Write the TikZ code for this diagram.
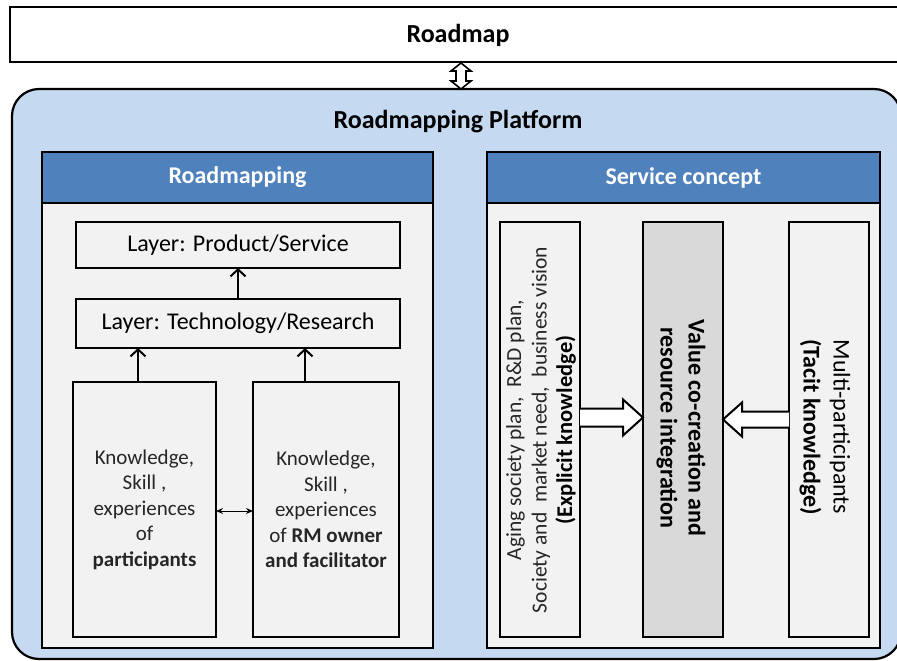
\documentclass[tikz,border=0pt]{standalone}
\usepackage{fontspec}
\setmainfont{Carlito}
\usetikzlibrary{arrows.meta,calc}
\definecolor{platfill}{RGB}{197,217,241}
\definecolor{hdrblue}{RGB}{79,129,189}
\definecolor{panelgray}{RGB}{242,242,242}
\definecolor{valgray}{RGB}{217,217,217}
\begin{document}
\begin{tikzpicture}[x=1pt,y=-1pt,
  box/.style={draw=black, line width=1.8pt, fill=panelgray, rectangle, inner sep=0pt, outer sep=0pt},
  hdr/.style={draw=black, line width=1.8pt, fill=hdrblue, rectangle, inner sep=0pt, outer sep=0pt,
    text=white, font=\fontsize{24}{28}\selectfont\bfseries},
  lay/.style={box, font=\fontsize{24}{28}\selectfont},
  know/.style={box, align=center, font=\fontsize{21}{25.5}\selectfont, text=black!85},
  vtxt/.style={align=center, inner sep=0pt},
  uparrow/.style={line width=2pt, -{Straight Barb[length=7pt,width=15pt]}},
  blockarrow/.style={draw=black, line width=2pt, fill=white, line join=miter},
  thinarrow/.style={line width=1pt, {Stealth[length=7pt,width=6pt]}-{Stealth[length=7pt,width=6pt]}}
]
\useasboundingbox (0,0) rectangle (897,661);
\clip (0,0) rectangle (897,661);

% Roadmap bar
\node[box, fill=white, minimum width=1000pt, minimum height=55pt] (roadmap) at (510,34.5) {};
\node[font=\fontsize{26}{30}\selectfont\bfseries] (roadmaptitle) at (458,35) {Roadmap};

% Platform
\node[draw=black, line width=2.2pt, fill=platfill, rounded corners=27pt, rectangle,
      minimum width=889pt, minimum height=570pt, inner sep=0pt] (platform) at (456.5,374) {};
\node[font=\fontsize{26}{30}\selectfont\bfseries] (plattitle) at (458,122) {Roadmapping Platform};

% double block arrow between roadmap and platform
\coordinate (da) at (461,76);
\draw[blockarrow, line width=1.6pt]
  ($(da)+(0,-13)$) -- ($(da)+(10,-5)$) -- ($(da)+(5,-5)$) -- ($(da)+(5,5)$) -- ($(da)+(10,5)$)
  -- ($(da)+(0,13)$) -- ($(da)+(-10,5)$) -- ($(da)+(-5,5)$) -- ($(da)+(-5,-5)$) -- ($(da)+(-10,-5)$) -- cycle;

% Left panel
\node[box, minimum width=391pt, minimum height=496pt] (leftpanel) at (237.5,400) {};
\node[hdr, minimum width=391pt, minimum height=51pt] (lefthdr) at (237.5,177.5) {Roadmapping};

\node[lay, minimum width=324pt, minimum height=46pt] (ps) at (238,245) {Layer: Product/Service};
\node[lay, minimum width=324pt, minimum height=49pt] (tr) at (238,323.5) {Layer: Technology/Research};

\node[know, minimum width=143pt, minimum height=255pt] (k1) at (144.5,509.5)
  {Knowledge,\\Skill ,\\experiences\\of\\\textbf{participants}};
\node[know, minimum width=146pt, minimum height=255pt] (k2) at (326,509.5)
  {Knowledge,\\Skill ,\\experiences\\of \textbf{RM owner}\\\textbf{and facilitator}};

\coordinate (k1top) at ($(k1.north)+(-6.5,0)$);
\coordinate (k2top) at ($(k2.north)+(-21,0)$);
\draw[uparrow] (tr.north) -- (ps.south);
\draw[uparrow] (k1top) -- (k1top |- tr.south);
\draw[uparrow] (k2top) -- (k2top |- tr.south);
\draw[thinarrow] ($(k1.east)+(0,1.5)$) -- ($(k2.west)+(0,1.5)$);

% Right panel
\node[box, minimum width=393pt, minimum height=496pt] (rightpanel) at (683.5,400) {};
\node[hdr, minimum width=393pt, minimum height=51pt] (righthdr) at (683.5,177.5) {Service concept};

\node[box, minimum width=80pt, minimum height=415pt] (e1) at (540,429.5) {};
\node[box, fill=valgray, minimum width=80pt, minimum height=415pt] (v2) at (683,429.5) {};
\node[box, minimum width=80pt, minimum height=415pt] (t3) at (829,429.5) {};

\node[vtxt, rotate=90, font=\fontsize{21.5}{25.5}\selectfont, text=black!85] (e1txt) at (541,430)
  {Aging society plan,\ \ R\&D plan,\\Society and\ \ market need,\ \ business vision\\{\color{black}\fontsize{22.5}{28}\selectfont\bfseries (Explicit knowledge)}};
\node[vtxt, rotate=-90, font=\fontsize{24}{28}\selectfont\bfseries] (v2txt) at (681,428)
  {Value co-creation and\\resource integration};
\node[vtxt, rotate=-90, font=\fontsize{24}{30}\selectfont] (t3txt) at (825,427)
  {Multi-participants\\\textbf{(Tacit knowledge)}};

% block arrows
\coordinate (ra) at (e1.east |- 0,417.5);
\coordinate (rb) at (v2.west |- 0,417.5);
\draw[blockarrow]
  ($(ra)+(0,-9)$) -- ($(rb)+(-20,-9)$) -- ($(rb)+(-20,-18)$) -- (rb)
  -- ($(rb)+(-20,18)$) -- ($(rb)+(-20,9)$) -- ($(ra)+(0,9)$);
\coordinate (la) at (t3.west |- 0,419.5);
\coordinate (lb) at (v2.east |- 0,419.5);
\draw[blockarrow]
  ($(la)+(0,-8)$) -- ($(lb)+(19,-8)$) -- ($(lb)+(19,-17)$) -- (lb)
  -- ($(lb)+(19,17)$) -- ($(lb)+(19,8)$) -- ($(la)+(0,8)$);
\end{tikzpicture}
\end{document}
